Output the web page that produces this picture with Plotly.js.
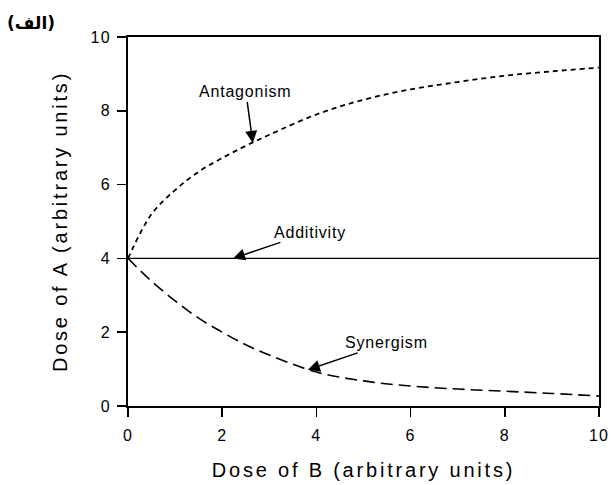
<!DOCTYPE html>
<html>
<head>
<meta charset="utf-8">
<script src="https://cdn.plot.ly/plotly-3.0.1.min.js"></script>
<style>
  html, body { margin: 0; padding: 0; background: #fff; }
  #chart { width: 611px; height: 485px; }
  .xtitle, .ytitle { letter-spacing: 2.8px; }
  .xtick text, .ytick text { letter-spacing: 1.2px; }
  .annotation-text { letter-spacing: 0.8px; }
</style>
</head>
<body>
<div id="chart"></div>
<script>
// Dose of B (x) sample points
const doseB = [0, 0.5, 1, 1.5, 2, 2.5, 3, 4, 5, 6, 7, 8, 9, 10];
// Antagonism isobole (dose of A)
const antagonism = [4.0, 5.2, 5.85, 6.35, 6.72, 7.05, 7.35, 7.9, 8.3, 8.58, 8.78, 8.95, 9.07, 9.17];
// Synergism isobole (dose of A)
const synergism = [4.0, 3.38, 2.85, 2.38, 2.0, 1.66, 1.38, 0.92, 0.68, 0.54, 0.46, 0.40, 0.34, 0.27];
// Additivity line
const additivityX = [0, 10];
const additivityY = [4, 4];

const tickVals = [0, 2, 4, 6, 8, 10];
const tickText = ['0', '2', '4', '6', '8', '10'];

const labels = {
  panel: '(الف)',
  xTitle: 'Dose of B (arbitrary units)',
  yTitle: 'Dose of A (arbitrary units)',
  antagonism: 'Antagonism',
  additivity: 'Additivity',
  synergism: 'Synergism'
};

// arrow targets (data coords)
const arrowAnt = [2.65, 7.13];
const arrowAdd = [2.23, 4.0];
const arrowSyn = [3.82, 0.98];

const traces = [
  { x: doseB, y: antagonism, mode: 'lines', line: { color: '#000', width: 1.8, dash: '5px,4px', shape: 'spline', smoothing: 1 }, hoverinfo: 'skip' },
  { x: additivityX, y: additivityY, mode: 'lines', line: { color: '#000', width: 1.4 }, hoverinfo: 'skip' },
  { x: doseB, y: synergism, mode: 'lines', line: { color: '#000', width: 1.6, dash: '12px,6px', shape: 'spline', smoothing: 1 }, hoverinfo: 'skip' }
];

const annFont = { family: 'Liberation Sans, Arial, sans-serif', size: 16, color: '#000' };
const arrowStyle = { showarrow: true, arrowhead: 2, arrowsize: 1.6, arrowwidth: 1.5, arrowcolor: '#000', standoff: 0 };

const layout = {
  width: 611, height: 485,
  margin: { l: 128, r: 12, t: 37, b: 79 },
  paper_bgcolor: '#fff', plot_bgcolor: '#fff',
  showlegend: false,
  font: { family: 'Liberation Sans, Arial, sans-serif', size: 16, color: '#000' },
  title: {
    text: '<b>' + labels.panel + '</b>',
    x: 7 / 611, xanchor: 'left', xref: 'container',
    y: 1 - 23 / 485, yanchor: 'middle', yref: 'container',
    font: { family: 'DejaVu Sans, sans-serif', size: 17, color: '#000' }
  },
  xaxis: {
    range: [0, 10], tickvals: tickVals, ticktext: tickText,
    ticks: 'outside', ticklen: 9, tickwidth: 1.5, tickcolor: '#000',
    ticklabelstandoff: 5,
    showline: true, linecolor: '#000', linewidth: 2, mirror: true,
    showgrid: false, zeroline: false,
    tickfont: { size: 16 },
    title: { text: labels.xTitle, font: { size: 20 }, standoff: 20 }
  },
  yaxis: {
    range: [0, 10], tickvals: tickVals, ticktext: tickText,
    ticks: 'outside', ticklen: 9, tickwidth: 1.5, tickcolor: '#000',
    ticklabelstandoff: 3,
    showline: true, linecolor: '#000', linewidth: 2, mirror: true,
    showgrid: false, zeroline: false,
    tickfont: { size: 16 },
    title: { text: labels.yTitle, font: { size: 20 }, standoff: 18 }
  },
  annotations: [
    Object.assign({ x: arrowAnt[0], y: arrowAnt[1], ax: -7, ay: -51, text: labels.antagonism, font: annFont }, arrowStyle),
    Object.assign({ x: arrowAdd[0], y: arrowAdd[1], ax: 77, ay: -26, text: labels.additivity, font: annFont }, arrowStyle),
    Object.assign({ x: arrowSyn[0], y: arrowSyn[1], ax: 79, ay: -27, text: labels.synergism, font: annFont }, arrowStyle)
  ]
};

Plotly.newPlot('chart', traces, layout, { displayModeBar: false, staticPlot: true });
</script>
</body>
</html>
